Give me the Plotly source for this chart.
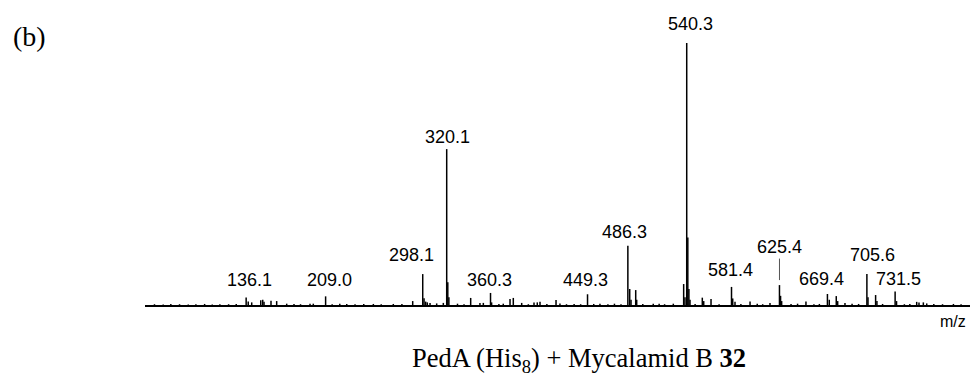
import plotly.graph_objects as go

# Mass spectrum: PedA (His8) + Mycalamid B 32
# labelled peaks (m/z, relative intensity %)
label_mz = [136.1, 209.0, 298.1, 320.1, 360.3, 449.3, 486.3, 540.3,
            581.4, 625.4, 669.4, 705.6, 731.5]
label_int = [2.9, 3.3, 11.8, 59.5, 4.6, 4.1, 22.6, 100.0,
             6.9, 7.6, 4.2, 11.8, 5.2]

# unlabelled signals (isotopes, fragments)
minor_mz = [138.0, 141.2, 149.5, 151.3, 152.5, 158.9, 164.1, 173.3, 194.7, 197.7,
            228.4, 252.8, 271.1, 288.9, 299.3, 300.8, 302.3, 304.8, 310.9, 317.0,
            321.1, 322.1, 342.1, 350.6, 353.7, 361.3, 378.2, 381.2, 388.9, 400.2,
            403.2, 405.7, 420.4, 424.0, 460.7, 488.0, 489.2, 493.5, 494.4, 509.6,
            528.0, 537.5, 538.7, 541.3, 542.3, 543.3, 554.6, 555.9, 562.6, 582.5,
            584.6, 598.4, 616.7, 626.4, 627.4, 649.7, 671.1, 677.5, 678.8, 685.5,
            706.6, 713.6, 714.8, 732.8, 751.3, 753.4, 757.4, 760.5]
minor_int = [1.3, 1.0, 1.8, 2.0, 1.2, 1.6, 1.5, 0.5, 0.5, 0.5,
             0.4, 0.4, 0.4, 1.5, 2.6, 1.3, 1.0, 0.8, 0.6, 0.8,
             8.7, 3.0, 2.7, 0.8, 0.8, 1.0, 2.3, 2.7, 0.8, 1.0,
             1.0, 1.2, 1.9, 0.6, 0.5, 6.1, 2.0, 5.7, 2.0, 0.5,
             0.5, 8.0, 3.0, 25.8, 6.1, 2.0, 2.8, 1.5, 2.3, 2.5,
             1.2, 1.3, 0.8, 3.5, 1.5, 1.3, 2.0, 3.4, 1.5, 0.8,
             3.0, 3.8, 1.5, 1.5, 1.2, 1.0, 1.0, 0.6]

# baseline noise
noise_mz = [52, 60, 67, 75, 83, 90, 98, 105, 112, 120, 127, 180, 186, 215, 222,
            236, 244, 260, 279, 330, 336, 368, 372, 395, 412, 430, 437, 443, 455,
            468, 474, 480, 500, 515, 520, 548, 570, 590, 605, 610, 636, 642, 657,
            662, 692, 698, 720, 740, 745, 767, 775, 785, 792]
noise_int = [0.3, 0.2, 0.4, 0.3, 0.2, 0.3, 0.4, 0.2, 0.3, 0.3, 0.4, 0.4, 0.3, 0.3, 0.5,
             0.3, 0.4, 0.3, 0.4, 0.5, 0.3, 0.4, 0.5, 0.3, 0.4, 0.3, 0.4, 0.3, 0.4,
             0.3, 0.5, 0.3, 0.4, 0.5, 0.3, 0.4, 0.3, 0.4, 0.5, 0.3, 0.4, 0.5, 0.3,
             0.4, 0.5, 0.4, 0.4, 0.3, 0.4, 0.4, 0.3, 0.4, 0.3]

# label placement (pixel offsets from each peak top)
label_dx = [3, 4, -11, 1, -1, -2, -3, 4, -1, 0, -6, 6, 3]
label_dy = [5, 4, 7, 0, 1, 2, 2, 7, 5, 0, 3, 7, 0]

all_mz = label_mz + minor_mz + noise_mz
all_int = label_int + minor_int + noise_int

xs, ys = [], []
for m, h in zip(all_mz, all_int):
    xs += [m, m, None]
    ys += [0, h, None]

fig = go.Figure()
fig.add_trace(go.Scatter(x=xs, y=ys, mode="lines",
                         line=dict(color="black", width=1.5),
                         hoverinfo="skip", cliponaxis=False))

label_font = dict(family="Liberation Sans, Arial, sans-serif", size=18, color="black")
for m, h, dx, dy in zip(label_mz, label_int, label_dx, label_dy):
    if m == 625.4:
        # leader line from the label down to the peak
        fig.add_annotation(x=m, y=h, xref="x", yref="y", text=f"{m:.1f}",
                           showarrow=True, arrowhead=0, arrowwidth=1,
                           arrowcolor="#555555", ax=0, ay=-38, standoff=5,
                           font=label_font)
    else:
        fig.add_annotation(x=m, y=h, xref="x", yref="y", text=f"{m:.1f}",
                           showarrow=False, yanchor="bottom",
                           xshift=dx, yshift=dy, font=label_font)

fig.add_annotation(x=-0.162, y=1.025, xref="paper", yref="paper", text="(b)",
                   showarrow=False, xanchor="left", yanchor="middle",
                   font=dict(family="Liberation Serif, Times New Roman, serif",
                             size=28, color="black"))
fig.add_annotation(x=0.9975, y=-0.063, xref="paper", yref="paper", text="m/z",
                   showarrow=False, xanchor="right", yanchor="middle",
                   font=dict(family="Liberation Sans, Arial, sans-serif",
                             size=16, color="black"))
fig.add_annotation(x=0.526, y=-0.21, xref="paper", yref="paper",
                   text="PedA (His<sub>8</sub>) + Mycalamid B <b>32</b>",
                   showarrow=False, xanchor="center", yanchor="middle",
                   font=dict(family="Liberation Serif, Times New Roman, serif",
                             size=26.5, color="black"))

fig.update_xaxes(range=[43.3, 800.2], showline=True, linecolor="black",
                 linewidth=2, showticklabels=False, ticks="", showgrid=False,
                 zeroline=False)
fig.update_yaxes(range=[0, 100], visible=False, showgrid=False, zeroline=False)
fig.update_layout(width=973, height=377,
                  margin=dict(l=145, r=3, t=43, b=72),
                  plot_bgcolor="white", paper_bgcolor="white",
                  showlegend=False)

fig.write_html("out.html")
